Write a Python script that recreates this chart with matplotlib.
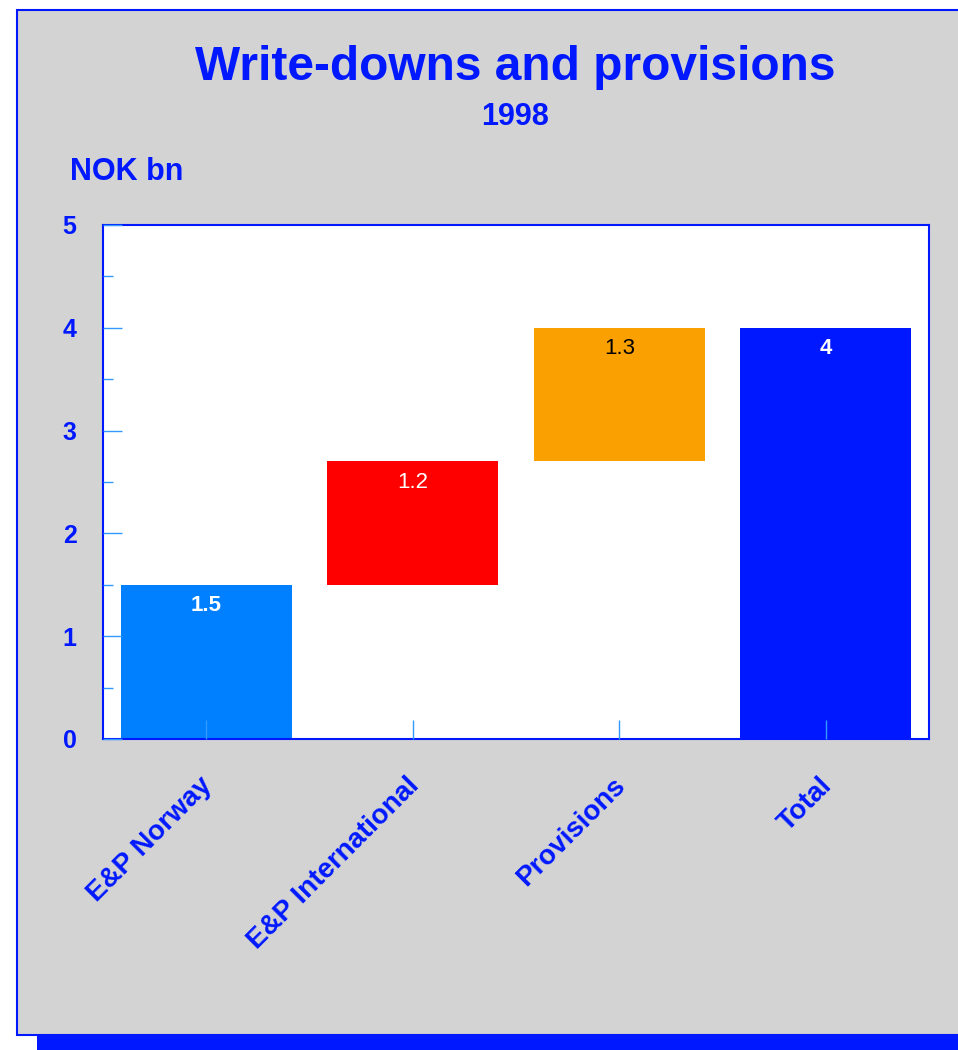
#!/usr/bin/env python3
# -*- coding: utf-8 -*-

import matplotlib
matplotlib.use("Agg")
import matplotlib.pyplot as plt
from matplotlib.patches import Rectangle
from matplotlib.transforms import ScaledTranslation

plt.rcParams["font.family"] = ["Liberation Sans", "DejaVu Sans"]

# ===== dados =====
categories = ["E&P Norway", "E&P International", "Provisions", "Total"]
values = [1.5, 1.2, 1.3, 4.0]
is_total = [False, False, False, True]
bar_colors = ["#0080ff", "#ff0000", "#faa000", "#0018ff"]
value_labels = ["1.5", "1.2", "1.3", "4"]
label_colors = ["white", "white", "black", "white"]
label_weights = ["bold", "normal", "normal", "bold"]
y_ticks = [0, 1, 2, 3, 4, 5]

BLUE = "#0018ff"
GRAY = "#d3d3d3"

# bases do waterfall
bottoms = []
acc = 0.0
for v, tot in zip(values, is_total):
    if tot:
        bottoms.append(0.0)
    else:
        bottoms.append(acc)
        acc += v

fig = plt.figure(figsize=(9.58, 10.5), dpi=100)
fig.patch.set_facecolor("white")

# painel cinza + sombra azul
fig.patches.append(Rectangle((37 / 958, 0), 1 - 37 / 958, 14 / 1050,
                             transform=fig.transFigure, facecolor=BLUE,
                             edgecolor="none", zorder=-2))
fig.patches.append(Rectangle((17 / 958, 15 / 1050), 1.0, 1 - 25 / 1050,
                             transform=fig.transFigure, facecolor=GRAY,
                             edgecolor=BLUE, linewidth=1.5, zorder=-1))

ax = fig.add_axes([103 / 958, 1 - 739 / 1050, 826 / 958, 514 / 1050])
ax.set_zorder(2)
ax.set_facecolor("white")
ax.set_axisbelow(False)

x = list(range(len(categories)))
ax.bar(x, values, bottom=bottoms, width=0.83, color=bar_colors, zorder=2)

for xi, v, b, lab, c, w in zip(x, values, bottoms, value_labels, label_colors, label_weights):
    ax.text(xi, b + v - 0.2, lab, ha="center", va="center", color=c,
            fontsize=16, fontweight=w, zorder=3)

ax.set_xlim(-0.5, len(categories) - 0.5)
ax.set_ylim(0, 5)

ax.set_yticks(y_ticks)
ax.set_yticks([t + 0.5 for t in y_ticks[:-1]], minor=True)
ax.tick_params(axis="y", which="major", direction="in", length=14, width=1,
               color="#3399ff", labelcolor=BLUE, labelsize=18, pad=19)
ax.tick_params(axis="y", which="minor", direction="in", length=7, width=1,
               color="#3399ff")
for t in ax.get_yticklabels():
    t.set_fontweight("bold")

ax.set_xticks(x)
ax.set_xticklabels(categories, rotation=45, ha="right", va="top",
                   rotation_mode="anchor", fontsize=20, fontweight="bold",
                   color=BLUE)
ax.tick_params(axis="x", which="major", direction="in", length=14, width=1,
               color="#3399ff", pad=24)
shift = ScaledTranslation(-7 / 100, 0, fig.dpi_scale_trans)
for t in ax.get_xticklabels():
    t.set_transform(t.get_transform() + shift)

for s in ax.spines.values():
    s.set_color(BLUE)
    s.set_linewidth(1.5)

fig.text(515 / 958, 1 - 68 / 1050, "Write-downs and provisions", ha="center",
         va="center", fontsize=34.5, fontweight="bold", color=BLUE)
fig.text(515 / 958, 1 - 117 / 1050, "1998", ha="center", va="center",
         fontsize=22, fontweight="bold", color=BLUE)
fig.text(70 / 958, 1 - 172 / 1050, "NOK bn", ha="left", va="center",
         fontsize=22, fontweight="bold", color=BLUE)

fig.savefig("out.png", dpi=100, facecolor=fig.get_facecolor())
